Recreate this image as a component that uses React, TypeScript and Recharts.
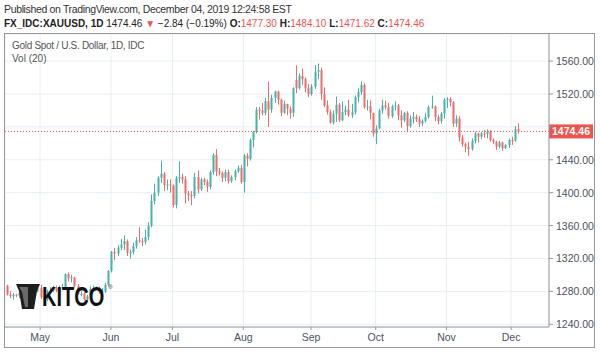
import React from 'react'
import { ComposedChart, Bar, XAxis, YAxis, CartesianGrid, ReferenceLine } from 'recharts'

// trading days shown, one per candle
const dates = [
  '2019-04-16', '2019-04-17', '2019-04-18', '2019-04-19', '2019-04-22', '2019-04-23', '2019-04-24', '2019-04-25', '2019-04-26', '2019-04-29', '2019-04-30',
  '2019-05-01', '2019-05-02', '2019-05-03', '2019-05-06', '2019-05-07', '2019-05-08', '2019-05-09', '2019-05-10', '2019-05-13', '2019-05-14', '2019-05-15', '2019-05-16', '2019-05-17', '2019-05-20', '2019-05-21', '2019-05-22', '2019-05-23', '2019-05-24', '2019-05-27', '2019-05-28', '2019-05-29', '2019-05-30', '2019-05-31',
  '2019-06-03', '2019-06-04', '2019-06-05', '2019-06-06', '2019-06-07', '2019-06-10', '2019-06-11', '2019-06-12', '2019-06-13', '2019-06-14', '2019-06-17', '2019-06-18', '2019-06-19', '2019-06-20', '2019-06-21', '2019-06-24', '2019-06-25', '2019-06-26', '2019-06-27', '2019-06-28',
  '2019-07-01', '2019-07-02', '2019-07-03', '2019-07-04', '2019-07-05', '2019-07-08', '2019-07-09', '2019-07-10', '2019-07-11', '2019-07-12', '2019-07-15', '2019-07-16', '2019-07-17', '2019-07-18', '2019-07-19', '2019-07-22', '2019-07-23', '2019-07-24', '2019-07-25', '2019-07-26', '2019-07-29', '2019-07-30', '2019-07-31',
  '2019-08-01', '2019-08-02', '2019-08-05', '2019-08-06', '2019-08-07', '2019-08-08', '2019-08-09', '2019-08-12', '2019-08-13', '2019-08-14', '2019-08-15', '2019-08-16', '2019-08-19', '2019-08-20', '2019-08-21', '2019-08-22', '2019-08-23', '2019-08-26', '2019-08-27', '2019-08-28', '2019-08-29', '2019-08-30',
  '2019-09-02', '2019-09-03', '2019-09-04', '2019-09-05', '2019-09-06', '2019-09-09', '2019-09-10', '2019-09-11', '2019-09-12', '2019-09-13', '2019-09-16', '2019-09-17', '2019-09-18', '2019-09-19', '2019-09-20', '2019-09-23', '2019-09-24', '2019-09-25', '2019-09-26', '2019-09-27', '2019-09-30',
  '2019-10-01', '2019-10-02', '2019-10-03', '2019-10-04', '2019-10-07', '2019-10-08', '2019-10-09', '2019-10-10', '2019-10-11', '2019-10-14', '2019-10-15', '2019-10-16', '2019-10-17', '2019-10-18', '2019-10-21', '2019-10-22', '2019-10-23', '2019-10-24', '2019-10-25', '2019-10-28', '2019-10-29', '2019-10-30', '2019-10-31',
  '2019-11-01', '2019-11-04', '2019-11-05', '2019-11-06', '2019-11-07', '2019-11-08', '2019-11-11', '2019-11-12', '2019-11-13', '2019-11-14', '2019-11-15', '2019-11-18', '2019-11-19', '2019-11-20', '2019-11-21', '2019-11-22', '2019-11-25', '2019-11-26', '2019-11-27', '2019-11-28', '2019-11-29',
  '2019-12-02', '2019-12-03', '2019-12-04',
]

const opens = [
  1287, 1276, 1274, 1276, 1275, 1278, 1271, 1276, 1278, 1286, 1280,
  1284, 1273, 1270, 1280, 1281, 1284, 1281, 1284, 1285, 1301, 1296, 1297, 1286, 1276, 1277, 1270, 1274, 1283, 1283.5, 1284, 1279, 1280, 1288,
  1305, 1328, 1326, 1333, 1337, 1341, 1327, 1328, 1335, 1342, 1341, 1340, 1346, 1360, 1390, 1400, 1418, 1423, 1409, 1410,
  1409, 1385, 1418, 1419, 1416, 1399, 1397, 1396, 1419, 1404, 1416, 1413, 1407, 1425, 1446, 1426, 1424, 1418, 1425, 1414, 1419, 1426, 1430,
  1413, 1445, 1441, 1464, 1474, 1501, 1500, 1497, 1511, 1501, 1515, 1523, 1513, 1497, 1508, 1502, 1497, 1537, 1527, 1542, 1538, 1527,
  1520, 1529, 1547, 1549, 1520, 1506, 1498, 1485, 1496, 1507, 1488, 1498, 1501, 1494, 1498, 1516, 1522, 1531, 1504, 1505, 1497,
  1472, 1478, 1500, 1506, 1504, 1493, 1505, 1506, 1494, 1488, 1497, 1481, 1490, 1492, 1489, 1484, 1487, 1492, 1504, 1505, 1492, 1487, 1496,
  1513, 1514, 1510, 1484, 1490, 1467, 1459, 1456, 1453, 1463, 1472, 1468, 1472, 1471, 1474, 1464, 1462, 1456, 1461, 1454, 1458,
  1464, 1463, 1477.3,
]

const highs = [
  1288, 1280, 1278, 1277, 1279, 1279, 1277, 1281, 1289, 1287, 1287,
  1288, 1275, 1282, 1285, 1287, 1287, 1287, 1289, 1302, 1303, 1300, 1298, 1289, 1280, 1279, 1276, 1286, 1287, 1286, 1286, 1284, 1290, 1306,
  1329, 1333, 1336, 1344, 1348, 1343, 1331, 1339, 1346, 1358, 1345, 1355, 1364, 1398, 1411, 1420, 1439, 1425, 1416, 1416,
  1410, 1420, 1438, 1423, 1420, 1402, 1402, 1424, 1427, 1418, 1418, 1416, 1427, 1448, 1453, 1430, 1426, 1428, 1428, 1421, 1428, 1433, 1434,
  1447, 1448, 1466, 1475, 1504, 1504, 1509, 1515, 1535, 1519, 1524, 1524, 1514, 1512, 1508, 1505, 1528, 1555, 1545, 1551, 1540, 1532,
  1532, 1555, 1557, 1552, 1528, 1512, 1501, 1500, 1517, 1509, 1511, 1506, 1513, 1508, 1518, 1527, 1535, 1533, 1513, 1512, 1497,
  1482, 1502, 1513, 1512, 1509, 1507, 1511, 1508, 1500, 1498, 1499, 1494, 1498, 1495, 1493, 1489, 1497, 1506, 1518, 1506, 1494, 1498, 1515,
  1516, 1516, 1511, 1494, 1493, 1470, 1461, 1462, 1466, 1474, 1473, 1474, 1476, 1477, 1476, 1466, 1463, 1463, 1462, 1459, 1466,
  1468, 1481, 1484.1,
]

const lows = [
  1275, 1272, 1270, 1273, 1272, 1266, 1269, 1274, 1276, 1278, 1279,
  1271, 1266, 1268, 1278, 1279, 1279, 1279, 1282, 1283, 1292, 1291, 1285, 1276, 1274, 1269, 1269, 1272, 1281, 1282, 1277, 1276, 1278, 1287,
  1303, 1318, 1323, 1330, 1330, 1323, 1320, 1325, 1332, 1339, 1335, 1337, 1342, 1358, 1386, 1396, 1412, 1402, 1403, 1400,
  1382, 1381, 1412, 1411, 1387, 1390, 1385, 1393, 1399, 1402, 1409, 1401, 1404, 1422, 1420, 1421, 1413, 1414, 1411, 1412, 1415, 1424, 1411,
  1400, 1432, 1439, 1455, 1472, 1489, 1494, 1494, 1480, 1497, 1509, 1507, 1493, 1496, 1494, 1490, 1492, 1521, 1525, 1531, 1522, 1516,
  1518, 1526, 1538, 1513, 1504, 1495, 1484, 1483, 1486, 1486, 1487, 1494, 1492, 1491, 1495, 1510, 1519, 1502, 1500, 1489, 1468,
  1459, 1477, 1496, 1501, 1490, 1491, 1500, 1488, 1479, 1486, 1474, 1479, 1484, 1486, 1480, 1481, 1485, 1490, 1502, 1487, 1483, 1484, 1490,
  1503, 1505, 1480, 1480, 1462, 1456, 1449, 1445, 1451, 1460, 1461, 1465, 1467, 1466, 1462, 1459, 1452, 1454, 1451, 1453, 1454,
  1458, 1462, 1471.62,
]

const closes = [
  1276, 1274, 1276, 1275, 1278, 1271, 1276, 1278, 1286, 1280, 1284,
  1273, 1270, 1280, 1281, 1284, 1281, 1284, 1285, 1301, 1296, 1297, 1286, 1277, 1277, 1270, 1274, 1283, 1284, 1284.5, 1279, 1280, 1288, 1305,
  1328, 1326, 1333, 1337, 1341, 1327, 1328, 1335, 1342, 1341, 1340, 1346, 1360, 1390, 1400, 1418, 1423, 1409, 1410, 1409,
  1385, 1418, 1419, 1416, 1399, 1397, 1396, 1419, 1404, 1416, 1413, 1407, 1425, 1446, 1426, 1424, 1418, 1425, 1414, 1419, 1426, 1430, 1413,
  1445, 1441, 1464, 1474, 1501, 1500, 1497, 1511, 1501, 1515, 1523, 1513, 1497, 1508, 1502, 1497, 1527, 1527, 1542, 1538, 1527, 1520,
  1529, 1547, 1549, 1520, 1506, 1498, 1485, 1496, 1507, 1488, 1498, 1501, 1494, 1498, 1516, 1522, 1531, 1504, 1505, 1497, 1472,
  1478, 1500, 1506, 1504, 1493, 1505, 1506, 1494, 1488, 1497, 1481, 1490, 1492, 1489, 1484, 1487, 1492, 1504, 1505, 1492, 1487, 1496, 1513,
  1514, 1510, 1484, 1490, 1467, 1459, 1456, 1453, 1463, 1472, 1468, 1472, 1471, 1474, 1464, 1462, 1456, 1461, 1454, 1458, 1464,
  1463, 1477.3, 1474.46,
]

const priceTicks = [1240, 1280, 1320, 1360, 1400, 1440, 1480, 1520, 1560]
const monthNames = ['Jan', 'Feb', 'Mar', 'Apr', 'May', 'Jun', 'Jul', 'Aug', 'Sep', 'Oct', 'Nov', 'Dec']

const UP = '#26a69a'
const DOWN = '#ef5350'
const AXIS = '#9598a1'
const TEXT = '#4c525e'
const FONT = '"Liberation Sans", Arial, sans-serif'

const data = dates.map((date, i) => ({
  i,
  date,
  open: opens[i],
  high: highs[i],
  low: lows[i],
  close: closes[i],
}))

const monthOf = (d: string) => Number(d.slice(5, 7)) - 1
const monthTicks = data.filter((d, i) => i > 0 && monthOf(d.date) !== monthOf(dates[i - 1])).map((d) => d.i)

const last = data[data.length - 1]
const prev = data[data.length - 2]
const change = last.close - prev.close
const changePct = (change / prev.close) * 100

const Candle = (props: any) => {
  const { x, y, width, height, payload } = props
  if (!payload || height == null) return null
  const { open, close, high, low } = payload
  const color = close >= open ? UP : DOWN
  const span = high - low || 1
  const py = (v: number) => y + ((high - v) / span) * height
  const cx = Math.round(x + width / 2)
  const top = py(Math.max(open, close))
  const bot = py(Math.min(open, close))
  return (
    <g opacity={0.85}>
      <line x1={cx + 0.5} x2={cx + 0.5} y1={y} y2={y + height} stroke={color} strokeWidth={1} />
      <rect x={cx - 0.5} y={top} width={2} height={Math.max(bot - top, 1)} fill={color} />
    </g>
  )
}

// the last-price tag hides the axis label underneath it, as on TradingView
const PriceTick = (props: any) => {
  const { x, y, payload } = props
  if (Math.abs(payload.value - last.close) < 10) return null
  return (
    <text x={x} y={y} dy={4} fill={TEXT} fontSize={10.5} fontFamily={FONT} textAnchor="start">
      {payload.value.toFixed(2)}
    </text>
  )
}

const PriceTag = (props: any) => {
  const { viewBox } = props
  if (!viewBox) return null
  const x = viewBox.x + viewBox.width
  const y = viewBox.y
  return (
    <g>
      <rect x={x} y={y - 7} width={44} height={14} fill={DOWN} />
      <text x={x + 22} y={y + 4} textAnchor="middle" fill="#fff" fontSize={10.5} fontWeight="bold" fontFamily={FONT}>
        {last.close.toFixed(2)}
      </text>
    </g>
  )
}

const red = { color: DOWN }

export default function App() {
  return (
    <div style={{ position: 'absolute', left: 0, top: 0, width: 600, height: 352, background: '#fff', fontFamily: FONT }}>
      <div style={{ position: 'absolute', left: 4, top: 3, fontSize: 10.5, letterSpacing: -0.35, color: '#333', whiteSpace: 'nowrap' }}>
        Published on TradingView.com, December 04, 2019 12:24:58 EST
      </div>
      <div style={{ position: 'absolute', left: 4, top: 18, fontSize: 10, color: '#222', whiteSpace: 'nowrap' }}>
        <b>FX_IDC:XAUUSD, 1D</b> {last.close.toFixed(2)} <span style={red}>▼</span> −{Math.abs(change).toFixed(2)} (−{Math.abs(changePct).toFixed(2)}%){' '}
        <b>O:</b><span style={red}>{last.open.toFixed(2)}</span> <b>H:</b><span style={red}>{last.high.toFixed(2)}</span>{' '}
        <b>L:</b><span style={red}>{last.low.toFixed(2)}</span> <b>C:</b><span style={red}>{last.close.toFixed(2)}</span>
      </div>

      <div style={{ position: 'absolute', left: 4, top: 33, width: 591, height: 315, border: `1px solid ${AXIS}`, boxSizing: 'border-box' }} />

      <div style={{ position: 'absolute', left: 5, top: 34 }}>
        <ComposedChart width={589} height={313} data={data} margin={{ top: 0, right: 0, bottom: 0, left: 0 }}>
          <CartesianGrid stroke="#e9eef5" />
          <XAxis
            dataKey="i"
            type="number"
            domain={[-0.4, 176.3]}
            allowDataOverflow
            ticks={monthTicks}
            tickFormatter={(i: number) => monthNames[monthOf(dates[i])]}
            height={20}
            tickSize={3}
            tickMargin={4}
            stroke={AXIS}
            tick={{ fill: TEXT, fontSize: 10.5, fontFamily: FONT }}
          />
          <YAxis
            orientation="right"
            domain={[1236.7, 1592.9]}
            allowDataOverflow
            ticks={priceTicks}
            width={45}
            tickSize={4}
            tickMargin={3}
            stroke={AXIS}
            tick={<PriceTick />}
          />
          <Bar dataKey={(d: any) => [d.low, d.high]} barSize={2} shape={<Candle />} isAnimationActive={false} />
          <ReferenceLine y={last.close} stroke={DOWN} strokeDasharray="1 2" label={<PriceTag />} ifOverflow="visible" />
        </ComposedChart>
      </div>

      <div style={{ position: 'absolute', left: 12, top: 40, fontSize: 10, letterSpacing: -0.3, color: '#555', whiteSpace: 'nowrap' }}>
        Gold Spot / U.S. Dollar, 1D, IDC
      </div>
      <div style={{ position: 'absolute', left: 12, top: 53, fontSize: 10, color: '#555', whiteSpace: 'nowrap' }}>
        Vol (20)
      </div>

      <svg style={{ position: 'absolute', left: 0, top: 0 }} width={600} height={352}>
        <path d="M16 284 L40 284 L37 291 L34 309 L22 309 L19 291 Z" fill="#1e1e1e" />
        <path d="M19 287 L28 287 L28 307 L25 307 L22 292 Z" fill="#6a6a6a" />
        <g transform="translate(42,306) scale(1,1.35)">
          <text x={0} y={0} fontSize={20} fontWeight="bold" fill="#111" fontFamily={FONT}>
            KITCO
          </text>
        </g>
        <text x={108} y={289} fontSize={6} fill="#222" fontFamily={FONT}>®</text>
      </svg>
    </div>
  )
}
